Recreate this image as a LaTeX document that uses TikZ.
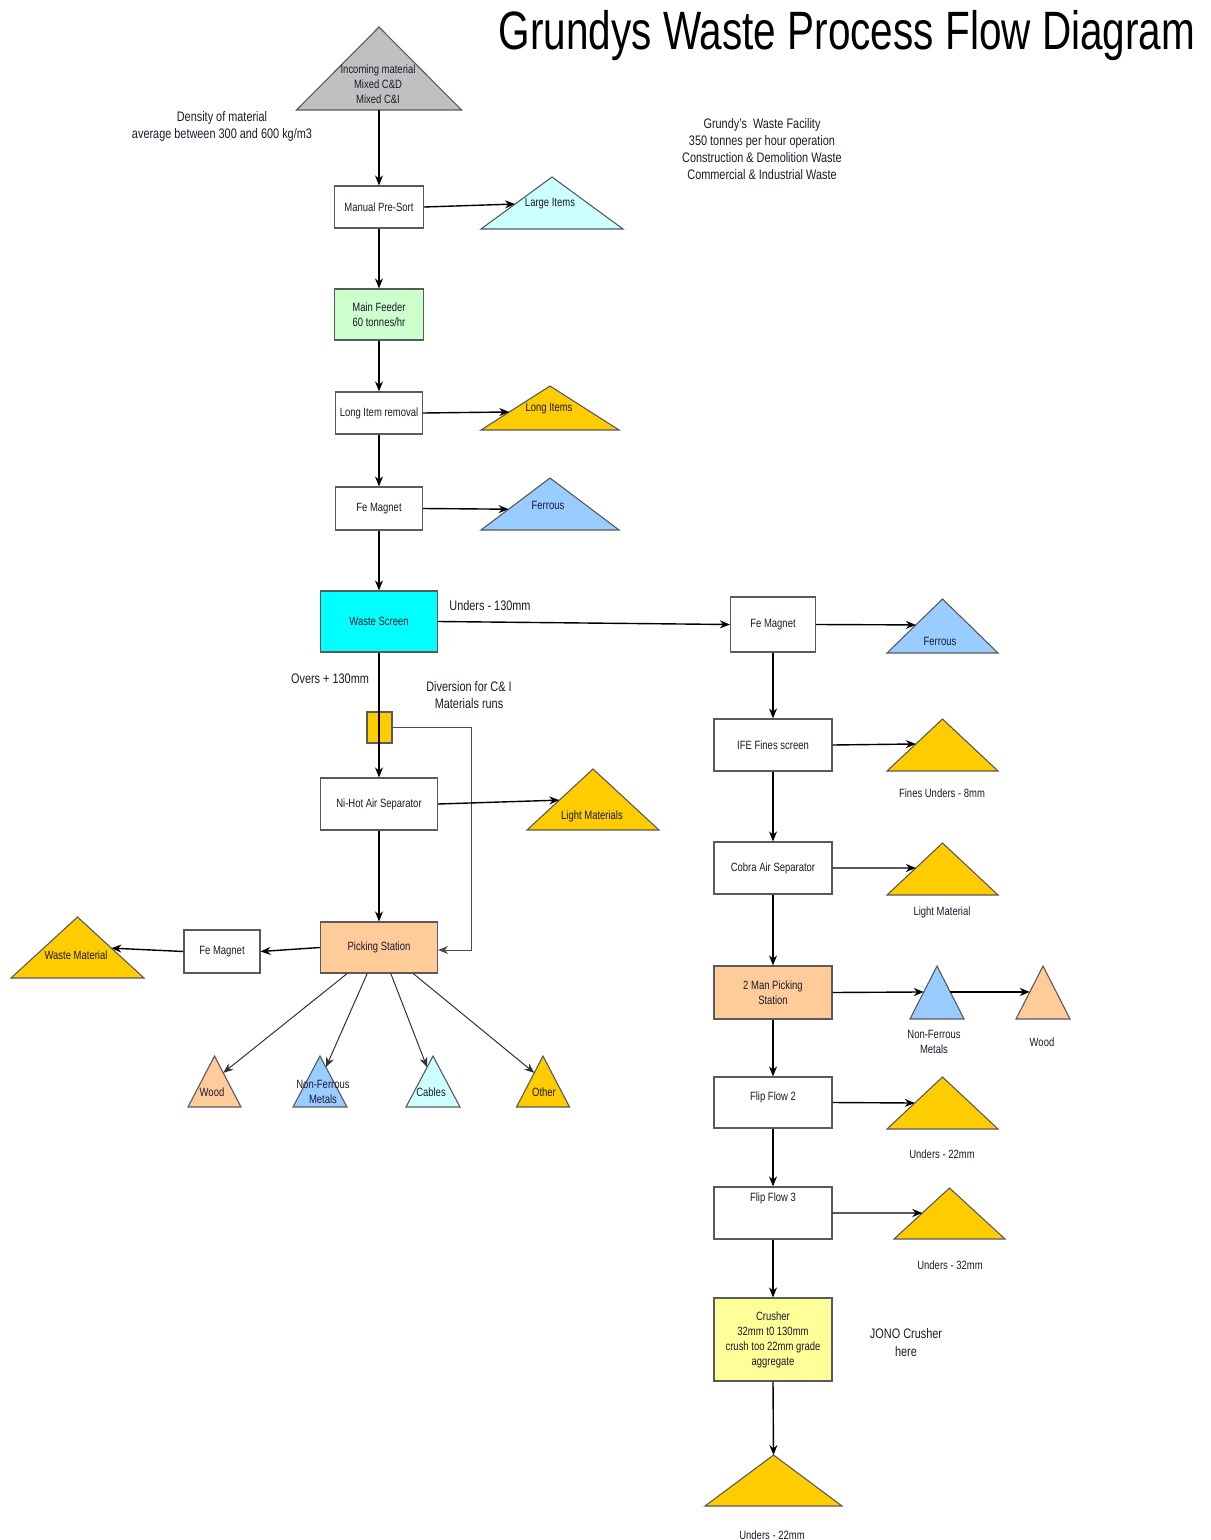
\documentclass[tikz,border=0pt]{standalone}
\usepackage{fontspec}
\setmainfont{Liberation Sans}[FakeStretch=0.79]
\newfontfamily\titlefont{Liberation Sans}[FakeStretch=0.75]
\usetikzlibrary{arrows.meta,calc}

\definecolor{gold}{HTML}{FFCC00}
\definecolor{peach}{HTML}{FFCC99}
\definecolor{ltblue}{HTML}{99CCFF}
\definecolor{ltcyan}{HTML}{CCFFFF}
\definecolor{ltgreen}{HTML}{CCFFCC}
\definecolor{ltyellow}{HTML}{FFFF99}
\definecolor{cyanx}{HTML}{00FFFF}
\definecolor{grayx}{HTML}{C0C0C0}
\definecolor{edgec}{HTML}{5A5A5A}
\definecolor{txt}{HTML}{1A1A2E}

\newcommand\wtri[6]{% name, cx, apex y, base y, half width, fill
  \coordinate (#1-t) at (#2,#3);
  \coordinate (#1-l) at ({#2-#5},#4);
  \coordinate (#1-r) at ({#2+#5},#4);
  \coordinate (#1-b) at (#2,#4);
  \draw[tri,fill=#6] (#1-t) -- (#1-l) -- (#1-r) -- cycle;}

\begin{document}
\begin{tikzpicture}[x=0.5pt,y=-0.5pt,
  box/.style={draw=edgec, line width=0.6pt, fill=white, inner sep=1pt, align=center, text=txt,
              font=\fontsize{6}{7.5}\selectfont},
  tri/.style={draw=edgec, line width=0.55pt},
  lab/.style={inner sep=0pt, align=center, text=txt, font=\fontsize{6}{7.5}\selectfont},
  big/.style={inner sep=0pt, align=center, text=txt, font=\fontsize{6.9}{8.5}\selectfont},
  flow/.style={-{Stealth[length=5pt,width=4pt]}, line width=0.7pt, black},
  slim/.style={-{Stealth[length=5pt,width=4pt]}, line width=0.5pt, black!80},
]
\useasboundingbox (0,0) rectangle (1210,1540);

% ---------- title and notes ----------
\node[anchor=base, inner sep=0pt, font=\titlefont\fontsize{27}{30}\selectfont] (title) at (847,50) {Grundys Waste Process Flow Diagram};
\node[big] (density) at (222,126.5) {Density of material\\average between 300 and 600 kg/m3};
\node[big] (facility) at (762,149.5) {Grundy's\ \ Waste Facility\\350 tonnes per hour operation\\Construction \& Demolition Waste\\Commercial \& Industrial Waste};

% ---------- triangles ----------
\wtri{incoming}{379}{27}{110}{82.5}{grayx}
\wtri{large}{552}{177}{229}{71}{ltcyan}
\wtri{long}{550}{386}{430}{69}{gold}
\wtri{ferrousA}{550}{478}{530}{69}{ltblue}
\wtri{lightA}{593}{769}{830}{66}{gold}
\wtri{wastemat}{77.5}{917}{978}{66.5}{gold}
\wtri{woodA}{214.5}{1056}{1107}{26.5}{peach}
\wtri{nonferA}{320}{1056}{1107}{27}{ltblue}
\wtri{cables}{433}{1056}{1107}{27}{ltcyan}
\wtri{other}{543}{1056}{1107}{26.5}{gold}
\wtri{ferrousB}{942.5}{599}{653}{55.5}{ltblue}
\wtri{fines}{942.5}{719}{771}{55.5}{gold}
\wtri{lightB}{942.5}{843}{895}{55.5}{gold}
\wtri{nonferB}{937}{966}{1019}{27}{ltblue}
\wtri{woodB}{1043}{966}{1019}{27}{peach}
\wtri{undA}{942.5}{1077}{1129}{55.5}{gold}
\wtri{undB}{949.5}{1188}{1239}{55.5}{gold}
\wtri{undC}{773.5}{1455}{1506}{68.5}{gold}

% triangle texts
\node[lab] (incomingtxt) at (378,84.5) {Incoming material\\Mixed C\&D\\Mixed C\&I};
\node[lab] (largetxt) at (550,204) {Large Items};
\node[lab] (longtxt) at (549,409) {Long Items};
\node[lab] (ferrousAtxt) at (548,505) {Ferrous};
\node[lab] (lightAtxt) at (592,816) {Light Materials};
\node[lab] (wastemattxt) at (76,955) {Waste Material};
\node[lab] (woodAtxt) at (212,1092) {Wood};
\node[lab] (nonferAtxt) at (323,1091.5) {Non-Ferrous\\Metals};
\node[lab] (cablestxt) at (431,1092) {Cables};
\node[lab] (othertxt) at (544,1092) {Other};
\node[lab] (ferrousBtxt) at (940,641) {Ferrous};
\node[lab] (finestxt) at (942,793) {Fines Unders - 8mm};
\node[lab] (lightBtxt) at (942,912) {Light Material};
\node[lab] (nonferBtxt) at (934,1041.5) {Non-Ferrous\\Metals};
\node[lab] (woodBtxt) at (1042,1042) {Wood};
\node[lab] (undAtxt) at (942,1154) {Unders - 22mm};
\node[lab] (undBtxt) at (950,1265) {Unders - 32mm};
\node[lab] (undCtxt) at (772,1535) {Unders - 22mm};

% ---------- boxes, left column ----------
\node[box, minimum width=44.5pt, minimum height=21pt] (presort) at (379,207) {Manual Pre-Sort};
\node[box, fill=ltgreen, minimum width=44.5pt, minimum height=25.5pt] (feeder) at (379,314.5) {Main Feeder\\60 tonnes/hr};
\node[box, minimum width=43.5pt, minimum height=21pt] (longrem) at (379,413) {Long Item removal};
\node[box, minimum width=43.5pt, minimum height=21.5pt] (feA) at (379,508.5) {Fe Magnet};
\node[box, fill=cyanx, minimum width=58.5pt, minimum height=30.5pt] (screen) at (379,621.5) {Waste Screen};
\node[box, fill=gold, minimum width=12.5pt, minimum height=15.5pt] (div) at (379.5,727.5) {};
\node[box, minimum width=58.5pt, minimum height=26pt] (nihot) at (379,804) {Ni-Hot Air Separator};
\node[box, fill=peach, minimum width=58.5pt, minimum height=25.5pt] (pick) at (379,947.5) {Picking Station};
\node[box, minimum width=38pt, minimum height=21.5pt] (feC) at (222,951.5) {Fe Magnet};

% ---------- boxes, right column ----------
\node[box, minimum width=42.5pt, minimum height=27.5pt] (feB) at (773,624.5) {Fe Magnet};
\node[box, minimum width=59pt, minimum height=26pt] (ife) at (773,745) {IFE Fines screen};
\node[box, minimum width=59pt, minimum height=26pt] (cobra) at (773,868) {Cobra Air Separator};
\node[box, fill=peach, minimum width=59pt, minimum height=26.5pt] (pickB) at (773,992.5) {2 Man Picking\\Station};
\node[box, minimum width=59pt, minimum height=25.5pt,
      label={[lab, yshift=2.75pt]center:Flip Flow 2}] (flipA) at (773,1102.5) {};
\node[box, minimum width=59pt, minimum height=26pt,
      label={[lab, yshift=7.5pt]center:Flip Flow 3}] (flipB) at (773,1213) {};
\node[box, fill=ltyellow, minimum width=59pt, minimum height=41.5pt] (crusher) at (773,1339.5) {Crusher\\32mm t0 130mm\\crush too 22mm grade\\aggregate};

% ---------- labels ----------
\node[big] (unders130) at (490,606) {Unders - 130mm};
\node[big] (overs) at (330,679) {Overs + 130mm};
\node[big] (divlab) at (469,695.5) {Diversion for C\& I\\Materials runs};
\node[big, font=\fontsize{6.9}{9}\selectfont] (jono) at (906,1343) {JONO Crusher\\here};

% ---------- connectors, left column ----------
\draw[flow] (incoming-b) -- (presort.north);
\draw[flow] (presort.east) -- ($(large-t)!0.52!(large-l)$);
\draw[flow] (presort.south) -- (feeder.north);
\draw[flow] (feeder.south) -- (longrem.north);
\draw[flow] (longrem.east) -- ($(long-t)!0.59!(long-l)$);
\draw[flow] (longrem.south) -- (feA.north);
\draw[flow] (feA.east) -- ($(ferrousA-t)!0.6!(ferrousA-l)$);
\draw[flow] (feA.south) -- (screen.north);
\draw[flow] (screen.east) -- (feB.west);
\draw[flow] (screen.south) -- (nihot.north);
\coordinate (divR) at (471,727.5);
\draw[slim, draw=black!70] (div.east) -- (divR) |- ([yshift=-1.25pt]pick.east);
\draw[flow] (nihot.east) -- ($(lightA-t)!0.51!(lightA-l)$);
\draw[flow] (nihot.south) -- (pick.north);
\draw[flow] (pick.west) -- (feC.east);
\draw[flow] (feC.west) -- ($(wastemat-t)!0.51!(wastemat-r)$);
\draw[slim] ($(pick.south west)!0.23!(pick.south east)$) -- ($(woodA-t)!0.33!(woodA-r)$);
\draw[slim] ($(pick.south west)!0.40!(pick.south east)$) -- ($(nonferA-t)!0.22!(nonferA-r)$);
\draw[slim] ($(pick.south west)!0.60!(pick.south east)$) -- ($(cables-t)!0.22!(cables-l)$);
\draw[slim] ($(pick.south west)!0.79!(pick.south east)$) -- ($(other-t)!0.33!(other-l)$);

% ---------- connectors, right column ----------
\draw[flow] (feB.east) -- ($(ferrousB-t)!0.48!(ferrousB-l)$);
\draw[flow] (feB.south) -- (ife.north);
\draw[flow] (ife.east) -- ($(fines-t)!0.48!(fines-l)$);
\draw[flow] (ife.south) -- (cobra.north);
\draw[flow] (cobra.east) -- ($(lightB-t)!0.48!(lightB-l)$);
\draw[flow] (cobra.south) -- (pickB.north);
\draw[flow] (pickB.east) -- ($(nonferB-t)!0.49!(nonferB-l)$);
\draw[flow] ($(nonferB-t)!0.49!(nonferB-r)$) -- ($(woodB-t)!0.49!(woodB-l)$);
\draw[flow] (pickB.south) -- (flipA.north);
\draw[flow] (flipA.east) -- ($(undA-t)!0.5!(undA-l)$);
\draw[flow] (flipA.south) -- (flipB.north);
\draw[flow] (flipB.east) -- ($(undB-t)!0.49!(undB-l)$);
\draw[flow] (flipB.south) -- (crusher.north);
\draw[flow] (crusher.south) -- (undC-t);
\end{tikzpicture}
\end{document}
